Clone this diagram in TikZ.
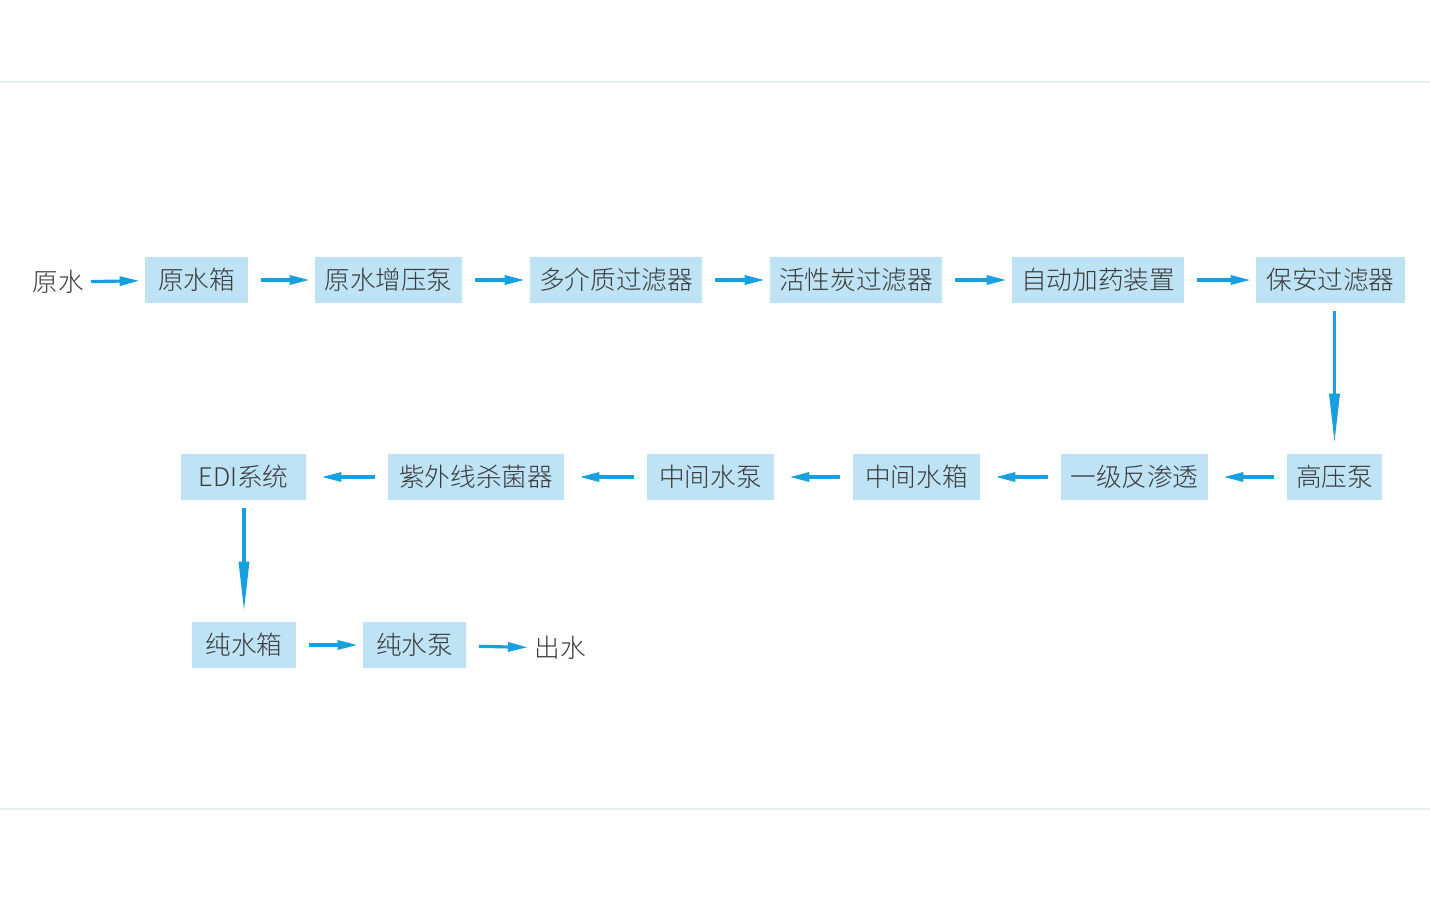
\documentclass[tikz,border=0pt]{standalone}
\usepackage{fontspec}
\setmainfont{Noto Sans CJK SC}[UprightFont={* Light}]
\usepackage{xcolor}
\usepackage{tikz}
\usetikzlibrary{
    positioning,
    arrows.meta,
    calc,
}
\definecolor{boxblue}{HTML}{BDE3F5}
\definecolor{flowblue}{HTML}{17A0E0}
\definecolor{textgray}{HTML}{3A3A3A}
\definecolor{rulegray}{HTML}{E4EFEF}
\tikzset{
    % Basic node styles
    unit/.style={rectangle, fill=boxblue, minimum height=0.92cm, inner sep=0pt,
                 text=textgray, font=\fontsize{14.6}{16}\selectfont},
    endtext/.style={inner sep=0pt, text=textgray, font=\fontsize{14.6}{16}\selectfont},
    % Arrow styles
    flow/.style={-{Triangle[length=4mm, width=1.8mm]}, line width=1.8pt, flowblue,
                 shorten <=0.25cm, shorten >=0.1cm},
    back flow/.style={flow, shorten <=0.26cm, shorten >=0.3cm},
    down flow/.style={flow, -{Triangle[length=10mm, width=2mm]},
                      shorten <=0.16cm, shorten >=0.2cm},
}

\begin{document}
\begin{tikzpicture}[x=0.02cm, y=-0.02cm]
    \useasboundingbox (0,0) rectangle (1430,900);

    % Frame lines
    \draw[rulegray, line width=0.8pt] (0,82) -- (1430,82);
    \draw[rulegray, line width=0.8pt] (0,809) -- (1430,809);

    % Row 1
    \node[endtext] (raw) at (58,282) {原水};
    \node[unit, minimum width=2.06cm] (rawtank) at (196.5,280) {原水箱};
    \node[unit, minimum width=2.94cm] (boostpump) at (388.5,280) {原水增压泵};
    \node[unit, minimum width=3.44cm] (mmf) at (616,280) {多介质过滤器};
    \node[unit, minimum width=3.44cm] (acf) at (856,280) {活性炭过滤器};
    \node[unit, minimum width=3.44cm] (dosing) at (1098,280) {自动加药装置};
    \node[unit, minimum width=2.98cm] (secfilter) at (1330.5,280) {保安过滤器};

    % Row 2
    \node[unit, minimum width=1.9cm] (hppump) at (1334.5,477) {高压泵};
    \node[unit, minimum width=2.94cm] (ro) at (1134.5,477) {一级反渗透};
    \node[unit, minimum width=2.54cm] (midtank) at (916.5,477) {中间水箱};
    \node[unit, minimum width=2.54cm] (midpump) at (710.5,477) {中间水泵};
    \node[unit, minimum width=3.52cm] (uv) at (476,477) {紫外线杀菌器};
    \node[unit, minimum width=2.5cm] (edi) at (243.5,477) {EDI系统};

    % Row 3
    \node[unit, minimum width=2.08cm] (puretank) at (244,645) {纯水箱};
    \node[unit, minimum width=2.06cm] (purepump) at (414.5,645) {纯水泵};
    \node[endtext] (out) at (560,648) {出水};

    % Arrows
    \draw[flow, shorten <=0.14cm] (raw) -- (rawtank);
    \draw[flow] (rawtank) -- (boostpump);
    \draw[flow] (boostpump) -- (mmf);
    \draw[flow] (mmf) -- (acf);
    \draw[flow] (acf) -- (dosing);
    \draw[flow] (dosing) -- (secfilter);
    \draw[down flow] (secfilter.south -| hppump.north) -- (hppump.north);
    \draw[back flow] (hppump) -- (ro);
    \draw[back flow] (ro) -- (midtank);
    \draw[back flow] (midtank) -- (midpump);
    \draw[back flow] (midpump) -- (uv);
    \draw[back flow] (uv) -- (edi);
    \draw[down flow] (edi.south -| puretank.north) -- (puretank.north);
    \draw[flow] (puretank) -- (purepump);
    \draw[flow, shorten >=0.12cm] (purepump) -- (out);
\end{tikzpicture}
\end{document}
